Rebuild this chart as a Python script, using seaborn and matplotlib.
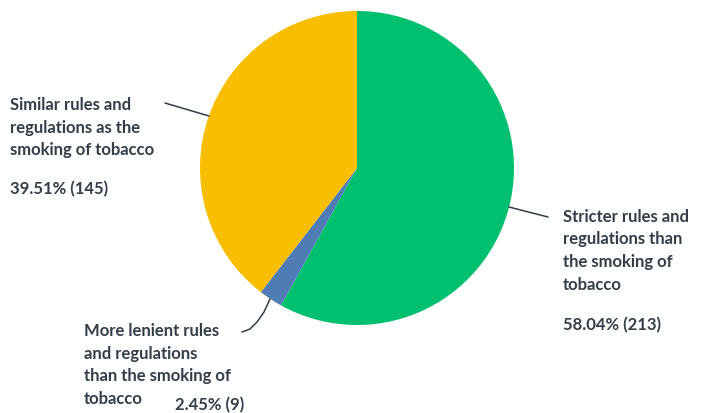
import matplotlib
matplotlib.use("Agg")
import matplotlib.pyplot as plt
import seaborn as sns

# dados
labels = [
    "Stricter rules and\nregulations than\nthe smoking of\ntobacco",
    "More lenient rules\nand regulations\nthan the smoking of\ntobacco",
    "Similar rules and\nregulations as the\nsmoking of tobacco",
]
counts = [213, 9, 145]
percents = [58.04, 2.45, 39.51]
colors = ["#00BF6F", "#507CB6", "#F9BE00"]

sns.set_theme(style="white")
plt.rcParams["font.family"] = ["Lato", "DejaVu Sans"]

fig = plt.figure(figsize=(7.03, 4.13), dpi=100)
W, H = 703, 413

# eixo do pizza: centro (357,168), raio 157 px
ax = fig.add_axes([200 / W, (H - 325) / H, 314 / W, 314 / H])
ax.pie(counts, colors=colors, startangle=90, counterclock=False,
       radius=1.0, wedgeprops=dict(linewidth=0))
ax.set_xlim(-1, 1)
ax.set_ylim(-1, 1)
ax.set_aspect("equal")
ax.axis("off")

txt = "#333E48"
font = dict(fontsize=12, fontweight="bold", color=txt)

def fx(x):
    return x / W

def fy(y):
    return 1 - y / H

# rótulos, uma linha de cada vez (y = centro da primeira linha)
def bloco(x, y, s, passo=22.5):
    for i, linha in enumerate(s.split("\n")):
        fig.text(fx(x), fy(y + i * passo), linha, ha="left", va="center", **font)

bloco(10, 105, labels[2])
bloco(10, 189, f"{percents[2]:.2f}% ({counts[2]})")

bloco(563, 217, labels[0])
bloco(563, 325, f"{percents[0]:.2f}% ({counts[0]})")

bloco(84, 331, labels[1])
bloco(175, 405, f"{percents[1]:.2f}% ({counts[1]})")

# linhas de chamada
line = dict(color=txt, linewidth=1.1, transform=fig.transFigure, clip_on=False)
fig.add_artist(plt.Line2D([fx(165), fx(209)], [fy(103), fy(116)], **line))
fig.add_artist(plt.Line2D([fx(509), fx(548)], [fy(207), fy(217)], **line))
fig.add_artist(plt.Line2D([fx(270), fx(264), fx(257), fx(250), fx(242)],
                          [fy(299), fy(312), fy(322), fy(329), fy(332)], **line))

fig.savefig("out.png", dpi=100)
